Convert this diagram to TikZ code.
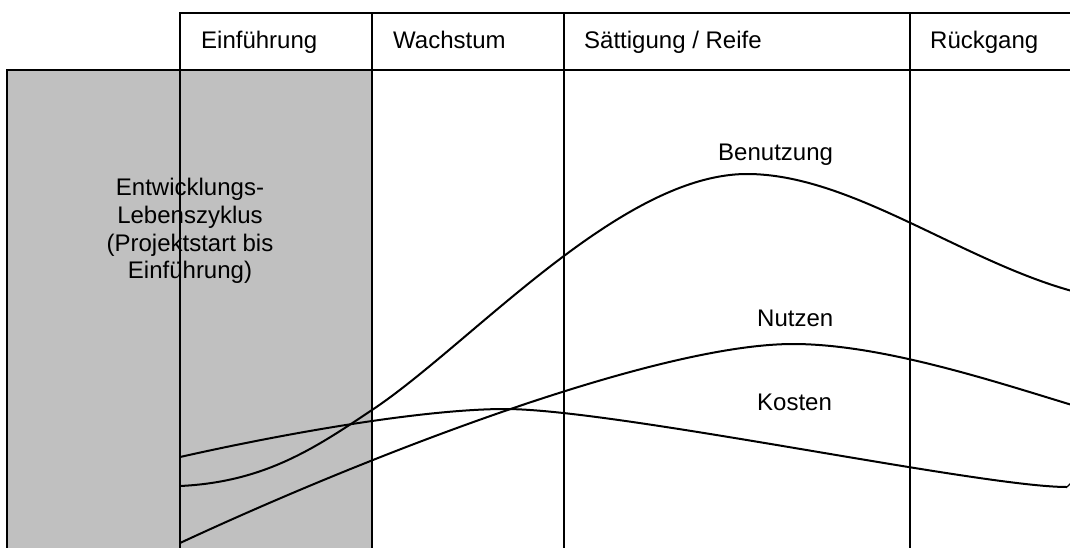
\documentclass[tikz,border=0pt]{standalone}
\usepackage{fontspec}
\setmainfont{Liberation Sans}
\definecolor{phasegray}{HTML}{C0C0C0}
\begin{document}
\begin{tikzpicture}[x=1pt,y=-1pt,
  gridline/.style={line width=1.4pt,black},
  curveline/.style={line width=2pt,black,line join=round},
  txt/.style={inner sep=0pt,font=\fontsize{24}{27.7}\selectfont},
  hdr/.style={txt,anchor=base west},
  lbl/.style={txt,anchor=base west}]
\useasboundingbox (0,0) rectangle (1070,547);
\begin{scope}
\clip (0,0) rectangle (1070,547);
% gray development area
\fill[phasegray] (7,70) rectangle (372,560);
\draw[gridline] (7,560) -- (7,70) -- (1075,70);
% header box and phase lines
\draw[gridline] (180,560) -- (180,13) -- (1075,13);
\draw[gridline] (372,13) -- (372,560);
\draw[gridline] (564,13) -- (564,560);
\draw[gridline] (910,13) -- (910,560);
% named points on the curves
\coordinate (b0) at (180,486);
\coordinate (b1) at (372,410);
\coordinate (b2) at (747,174);
\coordinate (b3) at (1072,291);
\coordinate (n0) at (180,543);
\coordinate (n1) at (793,344);
\coordinate (n2) at (1072,405);
\coordinate (k0) at (180,457);
\coordinate (k1) at (505,409);
\coordinate (k2) at (1067,487);
\coordinate (k3) at (1071,483);
% Benutzung
\draw[curveline] (b0) .. controls (265,482) and (315,448) .. (b1)
  .. controls (470,345) and (620,174) .. (b2)
  .. controls (850,174) and (960,260) .. (b3);
% Nutzen
\draw[curveline] (n0) .. controls (380,450) and (660,344) .. (n1)
  .. controls (880,344) and (990,380) .. (n2);
% Kosten
\draw[curveline] (k0) .. controls (300,430) and (430,409) .. (k1)
  .. controls (615,409) and (980,487) .. (k2);
\draw[line width=1.2pt] (k2) -- (k3);
\end{scope}
% header labels
\node[hdr] (einf) at (201,48.5) {Einführung};
\node[hdr] (wachs) at (393,48.5) {Wachstum};
\node[hdr] (saett) at (584,48.5) {Sättigung / Reife};
\node[hdr] (rueck) at (930,48.5) {Rückgang};
% gray area text
\node[txt,align=center] (entw) at (190,231) {Entwicklungs-\\Lebenszyklus\\(Projektstart bis\\Einführung)};
% curve labels
\node[lbl] (benutzung) at (718,160) {Benutzung};
\node[lbl] (nutzen) at (757,326) {Nutzen};
\node[lbl] (kosten) at (757,410) {Kosten};
\end{tikzpicture}
\end{document}
